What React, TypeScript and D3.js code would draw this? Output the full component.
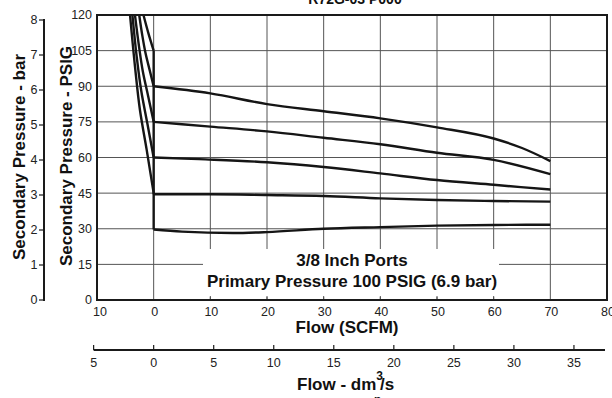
import React from "react";
import * as d3 from "d3";

const flowTicks = [-10, 0, 10, 20, 30, 40, 50, 60, 70, 80];
const psiTicks = [0, 15, 30, 45, 60, 75, 90, 105, 120];
const barTicks = [0, 1, 2, 3, 4, 5, 6, 7, 8];
const dmTicks = [-5, 0, 5, 10, 15, 20, 25, 30, 35];

// relief (reverse flow) branches: [flow SCFM, PSIG]
const relief30: [number, number][] = [[-4.17, 120], [-3.29, 98.2], [-2.42, 80], [-1.23, 63.2], [0, 45]];
const relief45: [number, number][] = [[-3.75, 120], [-3.0, 102.6], [-2.2, 88.2], [-1.12, 74.4], [0, 60]];
const relief60: [number, number][] = [[-3.3, 120], [-2.6, 107], [-1.91, 96.2], [-0.97, 85.8], [0, 75]];
const relief75: [number, number][] = [[-2.55, 120], [-2.0, 111.3], [-1.45, 104.1], [-0.75, 97.2], [0, 90]];
const relief90: [number, number][] = [[-1.8, 120], [-0.95, 112.5], [0, 105]];

// forward flow branches
const flow30: [number, number][] = [[0, 29.7], [5, 28.8], [14, 28.2], [20, 28.6], [30, 30], [40, 30.7], [50, 31.3], [60, 31.6], [70, 31.7]];
const flow45: [number, number][] = [[0, 44.5], [10, 44.5], [20, 44.2], [30, 43.8], [40, 42.8], [50, 42.1], [60, 41.7], [70, 41.4]];
const flow60: [number, number][] = [[0, 60], [8, 59.3], [20, 58], [30, 56], [40, 53.3], [50, 50.5], [60, 48.5], [70, 46.5]];
const flow75: [number, number][] = [[0, 75], [10, 73], [20, 71], [30, 68.3], [40, 65.6], [50, 62], [60, 59], [70, 53]];
const flow90: [number, number][] = [[0, 90], [10, 87], [20, 82.5], [30, 79.5], [40, 76.5], [50, 72.7], [60, 68], [65, 64], [70, 58.5]];

const curves = [
  { relief: relief30, flow: flow30 },
  { relief: relief45, flow: flow45 },
  { relief: relief60, flow: flow60 },
  { relief: relief75, flow: flow75 },
  { relief: relief90, flow: flow90 },
];

const SCFM_TO_DM3 = 0.4719;
const FONT = "'Liberation Sans', Arial, Helvetica, sans-serif";

export default function App() {
  const x = d3.scaleLinear().domain([-10, 80]).range([97, 607]);
  const y = d3.scaleLinear().domain([0, 120]).range([300, 15]);
  const yBar = d3.scaleLinear().domain([0, 8]).range([300, 20]);
  const xDm = d3.scaleLinear().domain([-10 * SCFM_TO_DM3, 80 * SCFM_TO_DM3]).range([97, 607]);

  const reliefLine = d3
    .line<[number, number]>()
    .x((d) => x(d[0]))
    .y((d) => y(d[1]))
    .curve(d3.curveMonotoneY);
  const flowLine = d3
    .line<[number, number]>()
    .x((d) => x(d[0]))
    .y((d) => y(d[1]))
    .curve(d3.curveMonotoneX);

  const boxX0 = 203, boxX1 = 499, boxY0 = 249, boxY1 = 297;
  const gridColor = "#555";
  const textColor = "#222";

  return (
    <svg width={612} height={398} style={{ position: "absolute", left: 0, top: 0, background: "#fff" }} fontFamily={FONT}>
      <rect x={0} y={0} width={612} height={398} fill="#fff" />
      {/* title (cropped) */}
      <text x={355} y={4} textAnchor="middle" fontSize={14} fontWeight="bold" fill="#111">R72G-03 P000</text>

      {/* grid */}
      {psiTicks.filter((t) => t > 0 && t < 120).map((t) => (
        <line key={"h" + t} x1={x(-10)} x2={x(80)} y1={y(t)} y2={y(t)} stroke={gridColor} strokeWidth={1} />
      ))}
      {flowTicks.filter((t) => t > -10 && t < 80).map((t) => (
        <line key={"v" + t} x1={x(t)} x2={x(t)} y1={y(0)} y2={y(120)} stroke={gridColor} strokeWidth={1} />
      ))}

      {/* label box */}
      <rect x={boxX0} y={boxY0} width={boxX1 - boxX0} height={boxY1 - boxY0} fill="#fff" />
      {flowTicks.filter((t) => x(t) > boxX0 && x(t) < boxX1).map((t) => (
        <line key={"tk" + t} x1={x(t)} x2={x(t)} y1={y(0)} y2={y(0) - 4} stroke={gridColor} strokeWidth={1} />
      ))}
      <text x={352} y={266} textAnchor="middle" fontSize={17} fontWeight="bold" fill="#111">3/8 Inch Ports</text>
      <text x={352} y={286.5} textAnchor="middle" fontSize={17} fontWeight="bold" fill="#111">Primary Pressure 100 PSIG (6.9 bar)</text>

      {/* curves */}
      {curves.map((c, i) => {
        const reliefEnd = c.relief[c.relief.length - 1];
        const flowStart = c.flow[0];
        return (
          <g key={"c" + i} fill="none" stroke="#151515" strokeWidth={2.4} strokeLinejoin="round">
            <path d={reliefLine(c.relief) || ""} />
            <line x1={x(reliefEnd[0])} x2={x(flowStart[0])} y1={y(reliefEnd[1])} y2={y(flowStart[1])} />
            <path d={flowLine(c.flow) || ""} />
          </g>
        );
      })}

      {/* frame */}
      <rect x={x(-10)} y={y(120)} width={x(80) - x(-10)} height={y(0) - y(120)} fill="none" stroke="#1a1a1a" strokeWidth={2} />

      {/* PSIG tick labels */}
      {psiTicks.map((t) => (
        <text key={"pl" + t} x={92} y={y(t)} dy="0.35em" textAnchor="end" fontSize={12.5} fill={textColor}>{t}</text>
      ))}

      {/* bar axis */}
      <line x1={44} x2={44} y1={yBar(8) - 1} y2={yBar(0) + 1} stroke="#1a1a1a" strokeWidth={2} />
      {barTicks.map((t) => (
        <g key={"b" + t}>
          <line x1={39} x2={44} y1={yBar(t)} y2={yBar(t)} stroke="#1a1a1a" strokeWidth={1.2} />
          <text x={37.5} y={yBar(t)} dy="0.35em" textAnchor="end" fontSize={12.5} fill={textColor}>{t}</text>
        </g>
      ))}

      {/* axis titles (left) */}
      <text transform="translate(25,157) rotate(-90)" textAnchor="middle" fontSize={17} fontWeight="bold" fill="#111">Secondary Pressure - bar</text>
      <text transform="translate(71.5,156) rotate(-90)" textAnchor="middle" fontSize={17} fontWeight="bold" fill="#111">Secondary Pressure - PSIG</text>

      {/* flow tick labels */}
      {flowTicks.map((t) => (
        <text key={"fl" + t} x={x(t) + (t === -10 ? 3 : 1)} y={316} textAnchor="middle" fontSize={12.5} fill={textColor}>{Math.abs(t)}</text>
      ))}
      <text x={347} y={333} textAnchor="middle" fontSize={17} fontWeight="bold" fill="#111">Flow (SCFM)</text>

      {/* dm3/s axis */}
      <line x1={xDm(-5)} x2={605} y1={350} y2={350} stroke="#1a1a1a" strokeWidth={2} />
      {dmTicks.map((t) => (
        <g key={"d" + t}>
          <line x1={xDm(t)} x2={xDm(t)} y1={350} y2={345} stroke="#1a1a1a" strokeWidth={1.2} />
          <text x={xDm(t)} y={367} textAnchor="middle" fontSize={12.5} fill={textColor}>{Math.abs(t)}</text>
        </g>
      ))}
      <text x={297} y={390} fontSize={17} fontWeight="bold" fill="#111">
        Flow - dm
        <tspan dx={0} dy={-10} fontSize={12}>3</tspan>
        <tspan dx={-3} dy={10}>/s</tspan>
      </text>
      <text x={374} y={404} fontSize={12} fontWeight="bold" fill="#111">n</text>
    </svg>
  );
}
